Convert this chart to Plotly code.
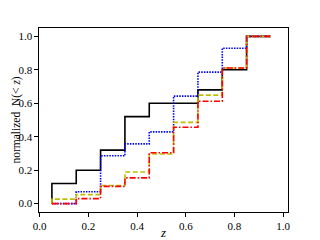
import plotly.graph_objects as go

# bin edges in redshift z
z_edges = [0.05, 0.15, 0.25, 0.35, 0.45, 0.55, 0.65, 0.75, 0.85, 0.95]

# normalized cumulative counts N(<z) (leading 0 at first edge)
black_vals = [0.0, 0.12, 0.20, 0.32, 0.52, 0.60, 0.60, 0.68, 0.80, 1.00]
blue_vals = [0.0, 0.0, 0.071, 0.286, 0.357, 0.429, 0.643, 0.786, 0.929, 1.00]
yellow_vals = [0.0, 0.027, 0.054, 0.108, 0.189, 0.297, 0.486, 0.649, 0.811, 1.00]
red_vals = [0.0, 0.0, 0.03, 0.103, 0.154, 0.304, 0.457, 0.612, 0.811, 1.00]

x_ticks = [0.0, 0.2, 0.4, 0.6, 0.8, 1.0]
y_ticks = [0.0, 0.2, 0.4, 0.6, 0.8, 1.0]

fig = go.Figure()
series = [
    (black_vals, "#000000", "solid"),
    (blue_vals, "#0000ff", "1.5px,1.2px"),
    (yellow_vals, "#bfbf00", "5px,2.5px"),
    (red_vals, "#ff0000", "6px,2px,1.5px,2px"),
]
for vals, col, dash in series:
    fig.add_trace(go.Scatter(
        x=z_edges, y=vals, mode="lines",
        line=dict(color=col, width=1.6, dash=dash, shape="vh"),
        showlegend=False,
    ))

font_family = "Liberation Serif, DejaVu Serif, serif"
# page body has an 8px default margin, so the figure is sized/offset to compensate
fig.update_layout(
    width=312, height=232,
    margin=dict(l=30.5, r=32, t=20.3, b=27.5),
    paper_bgcolor="white", plot_bgcolor="white",
    font=dict(family=font_family, size=11, color="black"),
    showlegend=False,
)
fig.update_xaxes(
    range=[-0.003, 1.02], tickvals=x_ticks, ticktext=[f"{v:.1f}" for v in x_ticks],
    tickfont=dict(family=font_family, size=11), automargin=False,
    showgrid=False, zeroline=False, showline=True, linecolor="black", linewidth=1.2,
    mirror=True, ticks="outside", ticklen=3.5, tickwidth=0.8, tickcolor="black",
    title=dict(text="<i>z</i>", font=dict(size=13, family=font_family), standoff=3),
)
fig.update_yaxes(
    range=[-0.05, 1.05], tickvals=y_ticks, ticktext=[f"{v:.1f}" for v in y_ticks],
    tickfont=dict(family=font_family, size=11), automargin=False,
    showgrid=False, zeroline=False, showline=True, linecolor="black", linewidth=1.2,
    mirror=True, ticks="outside", ticklen=3.5, tickwidth=0.8, tickcolor="black",
)
fig.add_annotation(
    text="normalized  N(&lt; <i>z</i>)", xref="paper", yref="paper",
    x=-0.094, y=0.5, xanchor="center", yanchor="middle", textangle=-90,
    showarrow=False, font=dict(size=11.5, family=font_family, color="black"),
)
fig.write_html("out.html")
